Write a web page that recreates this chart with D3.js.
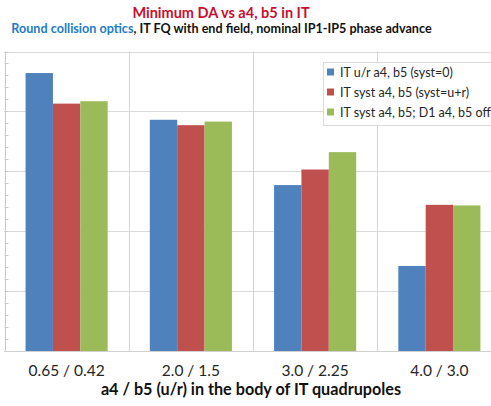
<!DOCTYPE html>
<html><head><meta charset="utf-8">
<script src="https://cdn.jsdelivr.net/npm/d3@7"></script>
<style>html,body{margin:0;padding:0;background:#fff;overflow:hidden}</style>
</head><body>
<svg id="c" width="491" height="406"></svg>
<script>
const categories = ["0.65 / 0.42", "2.0 / 1.5", "3.0 / 2.25", "4.0 / 3.0"];
const seriesNames = ["IT u/r a4, b5 (syst=0)", "IT syst a4, b5 (syst=u+r)", "IT syst a4, b5; D1 a4, b5 off"];
const seriesBlue = [4.64, 3.86, 2.77, 1.42];
const seriesRed = [4.13, 3.77, 3.03, 2.44];
const seriesGreen = [4.17, 3.83, 3.32, 2.43];
const colors = ["#4F81BD", "#C0504D", "#9BBB59"];
const yTicks = [0, 1, 2, 3, 4, 5];

(function () {
const allSeries = [seriesBlue, seriesRed, seriesGreen];
const svg = d3.select("#c");
const FONT = "Lato, 'Open Sans', sans-serif";

const pLeft = 4.5, pRight = 501.5, pTop = 51.5, pBottom = 351;
const x = d3.scaleBand().domain(categories).range([pLeft, pRight]).paddingInner(0).paddingOuter(0);
const x1 = d3.scaleBand().domain(d3.range(3)).range([0, x.bandwidth()]).paddingInner(0).paddingOuter(0.77);
const y = d3.scaleLinear().domain([0, 5]).range([pBottom, pTop]);

svg.append("g").selectAll("line").data(yTicks).join("line")
  .attr("x1", pLeft).attr("x2", 491)
  .attr("y1", d => Math.round(y(d)) + 0.5).attr("y2", d => Math.round(y(d)) + 0.5)
  .attr("stroke", "#d9d9d9").attr("stroke-width", 1);
svg.append("g").selectAll("line").data(categories.slice(1)).join("line")
  .attr("x1", d => Math.round(x(d)) + 0.5).attr("x2", d => Math.round(x(d)) + 0.5)
  .attr("y1", y(5)).attr("y2", y(0))
  .attr("stroke", "#d4d4d4");
svg.append("g").selectAll("line").data(d3.range(0, 5.001, 0.2)).join("line")
  .attr("x1", pLeft).attr("x2", pLeft + 4)
  .attr("y1", d => Math.round(y(d)) + 0.5).attr("y2", d => Math.round(y(d)) + 0.5)
  .attr("stroke", "#c8c8c8");
svg.append("line").attr("x1", Math.round(pLeft)+0.5).attr("x2", Math.round(pLeft)+0.5)
  .attr("y1", y(5)).attr("y2", y(0)).attr("stroke", "#c8c8c8");

const g = svg.append("g");
categories.forEach((c, ci) => {
  allSeries.forEach((s, si) => {
    g.append("rect")
      .attr("x", x(c) + x1(si))
      .attr("y", y(s[ci]))
      .attr("width", x1.bandwidth())
      .attr("height", y(0) - y(s[ci]))
      .attr("fill", colors[si]);
  });
});

svg.append("line").attr("x1", pLeft).attr("x2", 491)
  .attr("y1", Math.round(y(0)) + 0.5).attr("y2", Math.round(y(0)) + 0.5)
  .attr("stroke", "#d0d0d0");

svg.append("g").selectAll("text").data(categories).join("text")
  .attr("x", d => x(d) + x.bandwidth() / 2).attr("y", 375.5)
  .attr("text-anchor", "middle").attr("font-family", FONT).attr("font-size", 15.5)
  .attr("fill", "#262626").text(d => d);

svg.append("text").attr("x", 251).attr("y", 395).attr("text-anchor", "middle")
  .attr("font-family", FONT).attr("font-size", 16.2).attr("font-weight", "bold")
  .attr("fill", "#111").text("a4 / b5 (u/r) in the body of IT quadrupoles");

svg.append("text").attr("x", 221).attr("y", 18).attr("text-anchor", "middle")
  .attr("font-family", FONT).attr("font-size", 14.5).attr("font-weight", "bold")
  .attr("fill", "#C8102E").text("Minimum DA vs a4, b5 in IT");
const sub = svg.append("text").attr("x", 221.5).attr("y", 33).attr("text-anchor", "middle")
  .attr("font-family", FONT).attr("font-size", 12.6).attr("font-weight", "bold");
sub.append("tspan").attr("fill", "#1F7BC8").text("Round collision optics");
sub.append("tspan").attr("fill", "#111").text(", IT FQ with end field, nominal IP1-IP5 phase advance");

const lg = svg.append("g");
lg.append("rect").attr("x", 323.5).attr("y", 62.5).attr("width", 200).attr("height", 63)
  .attr("fill", "#fff").attr("stroke", "#d9d9d9");
seriesNames.forEach((n, i) => {
  const ly = 72 + i * 20;
  lg.append("rect").attr("x", 327).attr("y", ly - 3.5).attr("width", 7).attr("height", 7).attr("fill", colors[i]);
  lg.append("text").attr("x", 340).attr("y", ly + 4.5).attr("font-family", FONT)
    .attr("font-size", 12.5).attr("fill", "#262626").text(n);
});
})();
</script>
</body></html>
